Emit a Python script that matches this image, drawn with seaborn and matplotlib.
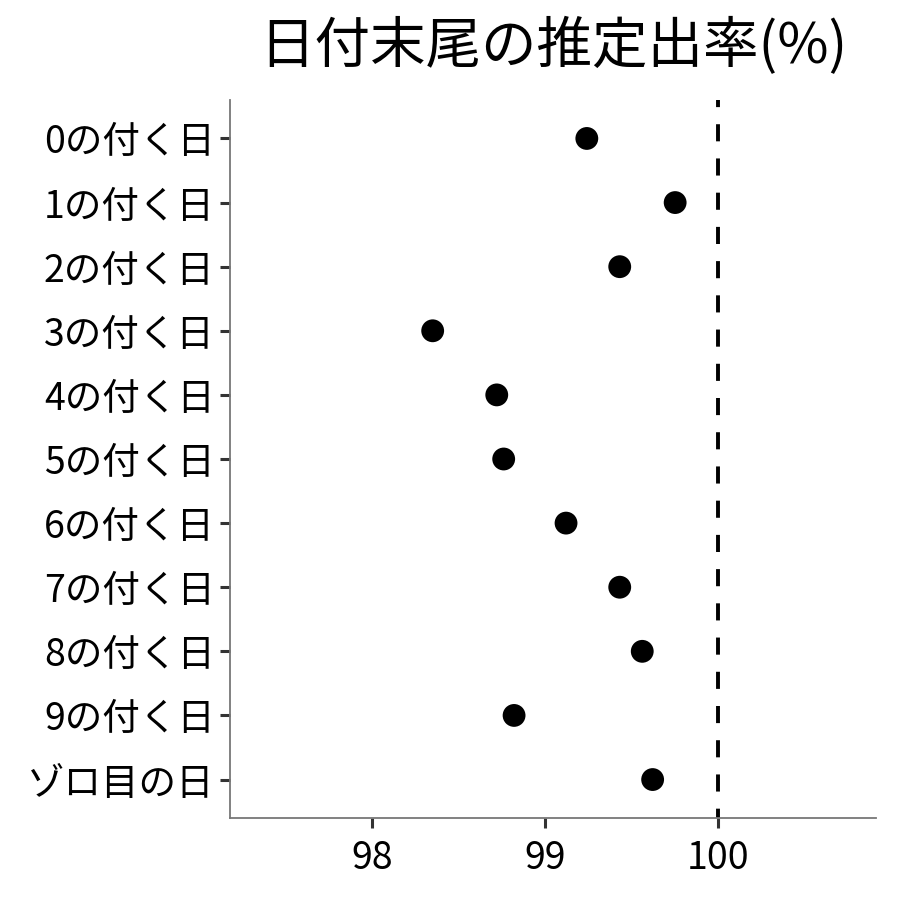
import matplotlib
matplotlib.use("Agg")
import matplotlib.pyplot as plt
import seaborn as sns
import pandas as pd

# 日付末尾ごとの推定出率
labels = ["0の付く日", "1の付く日", "2の付く日", "3の付く日", "4の付く日",
          "5の付く日", "6の付く日", "7の付く日", "8の付く日", "9の付く日", "ゾロ目の日"]
rates = [99.24, 99.75, 99.43, 98.35, 98.72, 98.76, 99.12, 99.43, 99.56, 98.82, 99.62]
x_ticks = [98, 99, 100]
ref_line = 100

df = pd.DataFrame({"label": labels, "rate": rates})

sns.set_theme(style="white")
plt.rcParams['font.family'] = ['Noto Sans CJK JP', 'DejaVu Sans']

fig = plt.figure(figsize=(9, 9), dpi=100)
ax = fig.add_axes([0.2556, 0.0911, 0.7178, 0.7978])

sns.scatterplot(data=df, x="rate", y="label", ax=ax, color="black",
                s=270, edgecolor="none", linewidth=0, legend=False)
ax.axvline(ref_line, color="black", linewidth=2.8, linestyle=(2, (4.4, 4.4)))

ax.set_xlim(97.18, 100.91)
ax.set_ylim(10.6, -0.6)
ax.set_xticks(x_ticks)
ax.set_xlabel("")
ax.set_ylabel("")
ax.tick_params(axis="y", labelsize=27, colors="#333333", labelcolor="black",
               length=7, width=2.2, direction="out", left=True, pad=4)
ax.tick_params(axis="x", labelsize=27, colors="#333333", labelcolor="black",
               length=7, width=2.2, direction="out", bottom=True, pad=8)

for side in ["top", "right"]:
    ax.spines[side].set_visible(False)
for side in ["left", "bottom"]:
    ax.spines[side].set_color("#777777")
    ax.spines[side].set_linewidth(1.3)

fig.text(0.615, 0.948, "日付末尾の推定出率(%)", ha="center", va="center",
         fontsize=40, color="black")

fig.savefig("out.png", dpi=100)
